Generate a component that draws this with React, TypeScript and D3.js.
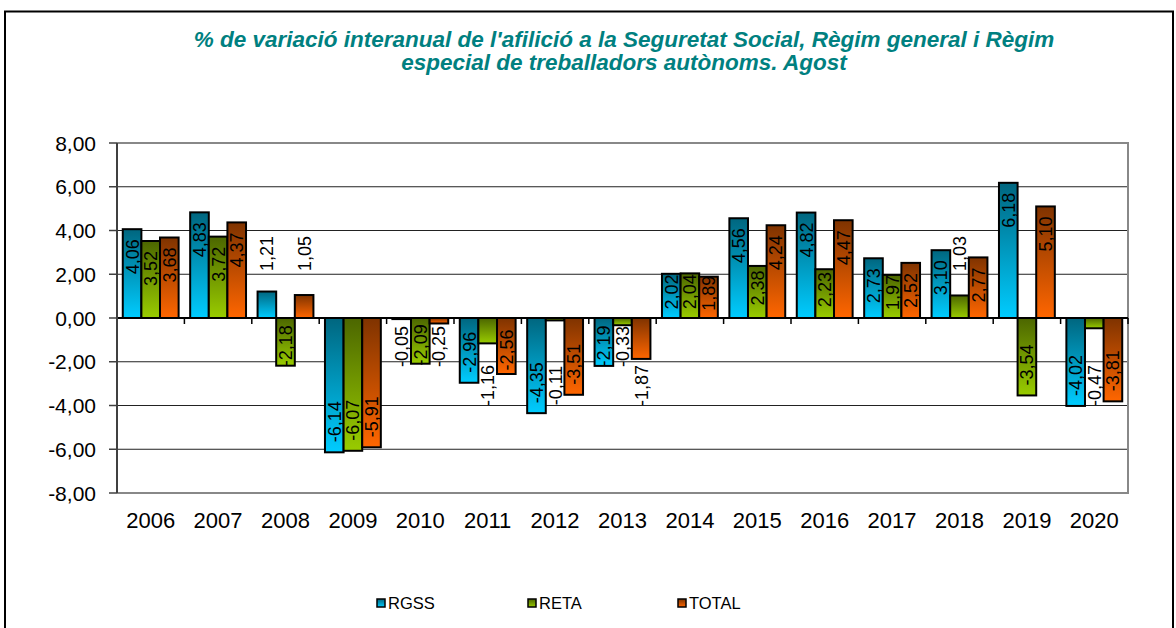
import React from "react";
import * as d3 from "d3";

const years = ["2006","2007","2008","2009","2010","2011","2012","2013","2014","2015","2016","2017","2018","2019","2020"];
const seriesNames = ["RGSS", "RETA", "TOTAL"];
const rgss = [4.06, 4.83, 1.21, -6.14, -0.05, -2.96, -4.35, -2.19, 2.02, 4.56, 4.82, 2.73, 3.10, 6.18, -4.02];
const reta = [3.52, 3.72, -2.18, -6.07, -2.09, -1.16, -0.11, -0.33, 2.04, 2.38, 2.23, 1.97, 1.03, -3.54, -0.47];
const total = [3.68, 4.37, 1.05, -5.91, -0.25, -2.56, -3.51, -1.87, 1.89, 4.24, 4.47, 2.52, 2.77, 5.10, -3.81];
const yTicks = [-8, -6, -4, -2, 0, 2, 4, 6, 8];
const titleLines = [
  "% de variació interanual de l'afilició a la Seguretat Social, Règim general i Règim",
  "especial de treballadors autònoms. Agost",
];

// label placement modes for labels that were put outside the bar
const labelOutsideFar = new Set(["2008|RGSS", "2008|TOTAL", "2011|RETA", "2012|RETA", "2013|TOTAL", "2018|RETA", "2020|RETA"]);
const labelOutsideNear = new Set(["2010|RGSS", "2010|TOTAL", "2013|RETA"]);

const gradients: Record<string, [string, string]> = {
  RGSS: ["#00667f", "#00ccff"],
  RETA: ["#4c6600", "#99cc00"],
  TOTAL: ["#7f3300", "#ff6600"],
};

const FONT = "'Liberation Sans', Arial, sans-serif";
const LABEL_FS = 18;

const fmt = (v: number) => v.toFixed(2).replace(".", ",");
const textLen = (s: string, fs: number) =>
  s.split("").reduce((a, c) => a + (c === "," ? 0.278 : c === "-" ? 0.333 : 0.556), 0) * fs;

export default function App() {
  const W = 1176, H = 628;
  const left = 117, right = 1128, top = 143, bottom = 493;
  const y = d3.scaleLinear().domain([-8, 8]).range([bottom, top]);
  const x0 = d3.scaleBand<string>().domain(years).range([left, right]).padding(0);
  const x1 = d3.scaleBand<string>().domain(seriesNames).range([0, x0.bandwidth()]).paddingInner(0).paddingOuter(0.31);
  const base = y(0);
  const dataBySeries: Record<string, number[]> = { RGSS: rgss, RETA: reta, TOTAL: total };
  const capHalf = 0.716 * LABEL_FS / 2;

  const bars: any[] = [];
  const labels: any[] = [];
  years.forEach((yr, i) => {
    seriesNames.forEach((s) => {
      const v = dataBySeries[s][i];
      const bx = (x0(yr) as number) + (x1(s) as number);
      const bw = x1.bandwidth();
      const yv = y(v);
      bars.push(
        <rect key={`b-${yr}-${s}`} x={bx} y={Math.min(yv, base)} width={bw} height={Math.max(Math.abs(yv - base), 0.5)}
          fill={`url(#grad-${s})`} stroke="#000" strokeWidth={2} />
      );
      const txt = fmt(v);
      const L = textLen(txt, LABEL_FS);
      const len = Math.abs(yv - base);
      const dir = v >= 0 ? -1 : 1;
      const key = `${yr}|${s}`;
      let cy: number;
      if (labelOutsideFar.has(key)) {
        cy = base + dir * (47 + L / 2);
      } else if (labelOutsideNear.has(key)) {
        cy = base + dir * (8 + L / 2);
      } else if (len - 20 >= L) {
        cy = yv - dir * (10 + L / 2);
      } else {
        cy = (yv + base) / 2 + dir * 4;
      }
      const cx = bx + bw / 2;
      labels.push(
        <text key={`l-${yr}-${s}`} transform={`translate(${cx + capHalf},${cy}) rotate(-90)`} textAnchor="middle"
          fontFamily={FONT} fontSize={LABEL_FS} fill="#000">{txt}</text>
      );
    });
  });

  const legendX = [377, 528, 678];

  return (
    <svg width={W} height={H} style={{ position: "absolute", left: 0, top: 0, background: "#fff" }}>
      <defs>
        {seriesNames.map((s) => (
          <linearGradient key={s} id={`grad-${s}`} x1="0" y1="0" x2="0" y2="1">
            <stop offset="0%" stopColor={gradients[s][0]} />
            <stop offset="100%" stopColor={gradients[s][1]} />
          </linearGradient>
        ))}
      </defs>
      <rect x={0} y={0} width={W} height={H} fill="#fff" />
      <rect x={5} y={11.5} width={1168} height={640} fill="#fff" stroke="#000" strokeWidth={2} />

      {titleLines.map((t, i) => (
        <text key={i} x={624} y={46.5 + i * 23.5} textAnchor="middle" fontFamily={FONT} fontSize={22.5}
          fontWeight="bold" fontStyle="italic" fill="#008080">{t}</text>
      ))}

      {yTicks.filter((t) => t !== 0 && t !== 8 && t !== -8).map((t) => (
        <line key={`g${t}`} x1={left} x2={right} y1={y(t)} y2={y(t)} stroke="#222" strokeWidth={1} />
      ))}
      <path d={`M${left},${top}H${right}V${bottom}H${left}`} fill="none" stroke="#888" strokeWidth={2} />

      {bars}

      <line x1={left} x2={right} y1={base} y2={base} stroke="#000" strokeWidth={2} />
      {years.map((yr) => {
        const xx = (x0(yr) as number) + x0.bandwidth();
        return <line key={`ct${yr}`} x1={xx} x2={xx} y1={base} y2={base + 6} stroke="#000" strokeWidth={1.5} />;
      })}

      <line x1={left} x2={left} y1={top} y2={bottom} stroke="#404040" strokeWidth={2} />
      {yTicks.map((t) => (
        <g key={`yt${t}`}>
          <line x1={left - 8} x2={left} y1={y(t)} y2={y(t)} stroke="#404040" strokeWidth={1.5} />
          <text x={96} y={y(t)} dy="0.36em" textAnchor="end" fontFamily={FONT} fontSize={21} fill="#000">{fmt(t)}</text>
        </g>
      ))}

      {labels}

      {years.map((yr) => (
        <text key={`xl${yr}`} x={(x0(yr) as number) + x0.bandwidth() / 2} y={528} textAnchor="middle"
          fontFamily={FONT} fontSize={22} fill="#000">{yr}</text>
      ))}

      {seriesNames.map((s, i) => (
        <g key={`lg${s}`}>
          <rect x={legendX[i]} y={599} width={8} height={8} fill={`url(#grad-${s})`} stroke="#000" strokeWidth={1.5} />
          <text x={legendX[i] + 11} y={609} fontFamily={FONT} fontSize={16.5} fill="#000">{s}</text>
        </g>
      ))}
    </svg>
  );
}
